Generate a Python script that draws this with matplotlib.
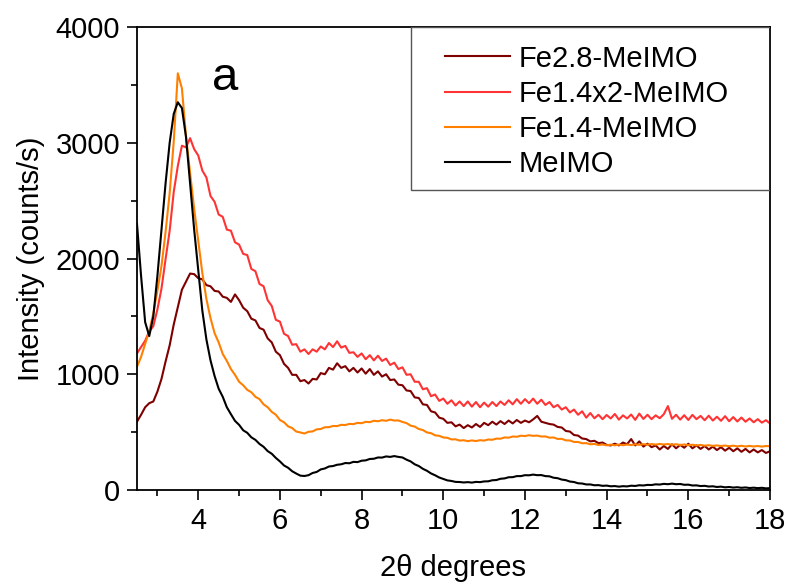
import numpy as np
import matplotlib

matplotlib.use("Agg")
import matplotlib.pyplot as plt
from matplotlib.patches import Rectangle
from matplotlib.ticker import MultipleLocator

# 2theta sampling (deg) shared by all patterns
two_theta = np.round(np.arange(2.5, 18.05, 0.1), 1)

labels = ["Fe2.8-MeIMO", "Fe1.4x2-MeIMO", "Fe1.4-MeIMO", "MeIMO"]
colors = ["#7f0000", "#ff3333", "#ff8000", "#000000"]

# intensities (counts/s)
fe28 = [
    590, 650, 715, 750, 765, 850, 960, 1110, 1250, 1430,
    1580, 1730, 1800, 1870, 1865, 1830, 1820, 1770, 1760, 1720,
    1715, 1670, 1660, 1625, 1690, 1640, 1575, 1545, 1480, 1465,
    1400, 1385, 1310, 1275, 1195, 1165, 1090, 1055, 995, 995,
    940, 950, 920, 960, 955, 1010, 1000, 1055, 1040, 1095,
    1055, 1070, 1025, 1055, 1015, 1050, 1005, 1045, 995, 1025,
    980, 1000, 950, 955, 910, 905, 860, 855, 800, 795,
    740, 735, 680, 670, 625, 615, 580, 585, 550, 565,
    535, 560, 540, 570, 545, 580, 560, 590, 565, 595,
    570, 600, 575, 605, 580, 600, 585, 610, 640, 590,
    580, 570, 565, 545, 540, 510, 505, 475, 470, 445,
    440, 420, 425, 405, 410, 390, 385, 400, 385, 410,
    395, 440, 385, 420, 375, 400, 370, 385, 350, 380,
    355, 395, 360, 390, 365, 400, 360, 385, 355, 380,
    350, 375, 345, 370, 340, 365, 335, 360, 330, 355,
    325, 350, 325, 345, 320, 335,
]
fe14x2 = [
    1180, 1235, 1290, 1370, 1415, 1560, 1740, 1995, 2240, 2575,
    2800, 2975, 2960, 3040, 2945, 2890, 2760, 2700, 2540, 2490,
    2380, 2360, 2250, 2240, 2140, 2120, 2040, 2030, 1910, 1890,
    1780, 1760, 1640, 1590, 1470, 1455, 1350, 1330, 1255, 1260,
    1195, 1215, 1175, 1215, 1195, 1240, 1215, 1270, 1235, 1285,
    1230, 1245, 1185, 1190, 1150, 1180, 1130, 1165, 1120, 1160,
    1115, 1135, 1080, 1100, 1045, 1060, 995, 1000, 935, 935,
    870, 880, 810, 825, 770, 790, 745, 775, 730, 765,
    725, 765, 720, 760, 715, 755, 720, 760, 725, 765,
    735, 775, 740, 785, 745, 785, 750, 790, 745, 780,
    735, 760, 715, 735, 695, 715, 670, 695, 650, 680,
    625, 665, 620, 650, 612, 648, 618, 657, 608, 645,
    618, 652, 606, 660, 614, 650, 612, 645, 620, 655,
    725, 615, 650, 608, 646, 605, 649, 612, 640, 603,
    642, 600, 633, 598, 638, 594, 630, 592, 626, 590,
    618, 585, 612, 582, 603, 575,
]
fe14 = [
    1065, 1150, 1262, 1370, 1528, 1722, 1935, 2230, 2565, 3010,
    3600, 3470, 3060, 2740, 2430, 2150, 1875, 1650, 1485, 1355,
    1275, 1175, 1115, 1045, 995, 935, 905, 865, 845, 805,
    785, 740, 715, 675, 650, 605, 585, 550, 535, 505,
    497, 488, 503, 506, 524, 527, 542, 543, 553, 552,
    563, 561, 571, 569, 580, 577, 589, 586, 598, 594,
    603, 598, 608, 600, 601, 588, 578, 556, 548, 527,
    518, 497, 491, 472, 468, 454, 451, 437, 438, 427,
    430, 422, 428, 423, 430, 427, 436, 434, 444, 443,
    454, 452, 462, 460, 469, 466, 473, 468, 470, 462,
    463, 452, 454, 441, 442, 429, 428, 415, 415, 404,
    405, 395, 398, 389, 393, 386, 392, 386, 392, 387,
    393, 388, 395, 390, 396, 391, 397, 392, 398, 393,
    397, 391, 395, 389, 393, 387, 391, 385, 389, 383,
    387, 381, 385, 380, 384, 378, 383, 377, 382, 376,
    381, 376, 380, 375, 380, 378,
]
meimo = [
    2300, 1850, 1450, 1330, 1500, 1850, 2250, 2650, 3000, 3250,
    3350, 3300, 3050, 2650, 2250, 1900, 1550, 1300, 1120, 985,
    875, 805, 715, 655, 597, 563, 516, 494, 455, 433,
    398, 373, 336, 313, 277, 247, 212, 192, 162, 142,
    124, 121, 128, 147, 156, 178, 186, 203, 207, 218,
    222, 233, 231, 243, 241, 253, 256, 268, 270, 281,
    280, 290, 286, 293, 286, 281, 262, 247, 222, 207,
    183, 166, 143, 127, 108, 96, 83, 78, 70, 69,
    65, 68, 64, 70, 68, 74, 75, 84, 86, 97,
    100, 110, 111, 120, 120, 128, 127, 133, 128, 129,
    120, 118, 106, 102, 90, 85, 73, 69, 58, 56,
    48, 48, 41, 42, 36, 38, 32, 34, 29, 33,
    31, 37, 35, 41, 39, 44, 43, 49, 47, 53,
    50, 55, 50, 52, 45, 46, 39, 40, 34, 36,
    30, 32, 26, 29, 23, 26, 21, 24, 19, 22,
    17, 20, 16, 19, 14, 16,
]

plt.rcParams["font.family"] = ["Liberation Sans", "DejaVu Sans"]

fig = plt.figure(figsize=(7.9, 5.85), dpi=100)
ax = fig.add_axes([0.1734, 0.1624, 0.8013, 0.7914])

for y, lab, col in zip([fe28, fe14x2, fe14, meimo], labels, colors):
    ax.plot(two_theta, y, color=col, lw=1.5, label=lab)

ax.set_xlim(2.5, 18)
ax.set_ylim(0, 4000)
ax.xaxis.set_major_locator(MultipleLocator(2))
ax.xaxis.set_minor_locator(MultipleLocator(1))
ax.yaxis.set_major_locator(MultipleLocator(1000))
ax.yaxis.set_minor_locator(MultipleLocator(500))
ax.tick_params(which="both", direction="out", width=1.2, labelsize=21, top=False, right=False, pad=5)
ax.tick_params(which="major", length=7)
ax.tick_params(which="minor", length=4)
for s in ax.spines.values():
    s.set_linewidth(1.3)

ax.set_xlabel("2θ degrees", fontsize=21, labelpad=14)
ax.set_ylabel("Intensity (counts/s)", fontsize=21, labelpad=8)
ax.text(4.65, 3560, "a", fontsize=34, ha="center", va="center")

# legend box flush with the top-right corner, entries set inside it
ax.add_patch(Rectangle((0.4329, 0.648), 0.5671, 0.352, transform=ax.transAxes,
                       fill=False, edgecolor="#555555", lw=1.0, zorder=4))
ax.legend(loc="upper left", bbox_to_anchor=(0.4866, 0.962), frameon=False,
          borderaxespad=0, borderpad=0, fontsize=21, handlelength=2.24,
          handletextpad=0.3, labelspacing=0.25)

fig.savefig("out.png", dpi=100)
